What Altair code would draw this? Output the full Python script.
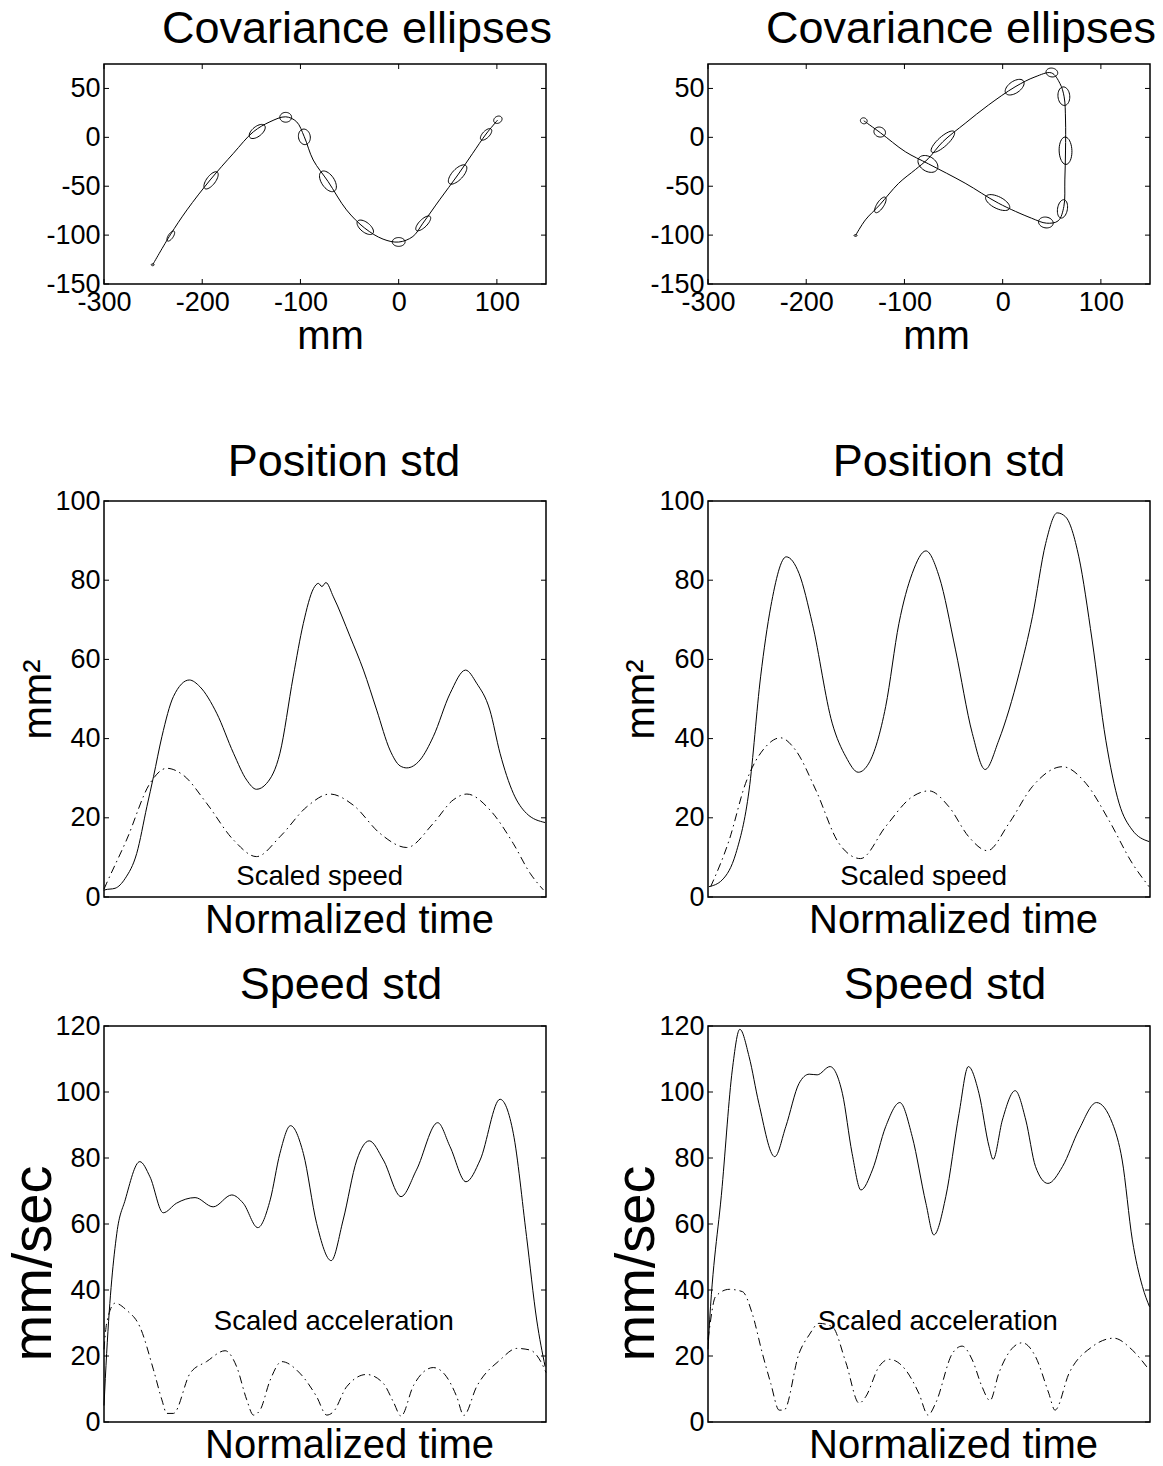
import altair as alt
import pandas as pd

FONT = "Liberation Sans"
W = 442
H_TOP = 220
H_MID = 396
H_BOT = 396

# ---------------- data ----------------
# Top-left trajectory (mm)
traj_l_x = [-250.4, -232.5, -215.5, -191.9, -168.2, -147.9, -131.0, -115.0, -103.9, -96.1, -87.0, -71.8,
            -53.1, -34.5, -15.9, 0.0, 14.5, 24.7, 41.6, 60.2, 75.4, 89.0, 100.8]
traj_l_y = [-130.3, -99.7, -74.2, -43.6, -16.3, 5.7, 15.9, 21.0, 15.9, 0.6, -23.2, -45.3,
            -74.2, -92.9, -104.1, -107.1, -101.4, -87.8, -64.0, -38.5, -16.3, 3.4, 17.7]
# Top-left covariance ellipses: centre, semi-axes, orientation (deg)
ell_l_cx = [-250.4, -232.0, -191.0, -144.0, -115.0, -96.0, -72.0, -34.0, 0.0, 25.0, 60.0, 89.0, 101.0]
ell_l_cy = [-130.3, -101.0, -44.0, 6.0, 20.5, 0.5, -45.0, -92.0, -107.0, -88.0, -38.0, 3.0, 18.0]
ell_l_a = [1.5, 6.0, 10.5, 9.7, 6.0, 8.0, 12.0, 10.0, 6.5, 10.0, 12.5, 7.5, 4.5]
ell_l_b = [1.0, 2.5, 4.5, 5.0, 5.0, 6.0, 6.5, 5.0, 4.5, 4.0, 5.5, 3.5, 3.5]
ell_l_ang = [0, 56, 53, 39, 0, 100, -56, -39, 0, 45, 47, 46, 30]

# Top-right trajectory (mm)
traj_r_x = [-149.8, -139.7, -125.2, -105.9, -88.9, -76.0, -60.9, -38.2, -14.5, 12.6, 32.9, 49.7, 58.3,
            62.6, 64.0, 64.0, 63.3, 62.3, 56.5, 44.7, 29.4, -4.4, -38.2, -75.4, -99.1, -124.5, -141.4]
traj_r_y = [-100.4, -84.4, -69.1, -47.0, -33.0, -22.0, -4.5, 14.3, 33.0, 51.6, 61.8, 65.9, 55.1,
            41.4, 17.7, -13.0, -43.6, -70.8, -85.4, -87.8, -82.7, -67.3, -46.9, -27.2, -14.7, 4.7, 16.9]
ell_r_cx = [-149.8, -124.5, -76.1, -60.9, 12.2, 50.1, 62.3, 64.0, 60.9, 44.0, -5.1, -125.2, -141.4]
ell_r_cy = [-100.4, -69.1, -27.2, -4.5, 51.3, 66.3, 42.1, -13.7, -73.2, -87.1, -66.7, 5.4, 16.9]
ell_r_a = [1.5, 9.3, 11.0, 15.5, 11.0, 6.0, 9.5, 14.0, 9.5, 7.5, 13.5, 6.0, 3.5]
ell_r_b = [1.0, 3.5, 7.5, 5.0, 6.0, 4.5, 6.0, 6.5, 5.0, 5.5, 6.0, 5.0, 3.0]
ell_r_ang = [0, 57, -32, 42, 35, -10, 95, 92, 80, -10, -27, -20, -20]

# Position std, left
pos_l_t = [0.0, 0.002, 0.025, 0.048, 0.074, 0.097, 0.112, 0.131, 0.157, 0.193, 0.217, 0.255, 0.293, 0.323,
           0.345, 0.368, 0.398, 0.428, 0.451, 0.474, 0.485, 0.493, 0.502, 0.519, 0.557, 0.587, 0.617,
           0.647, 0.670, 0.685, 0.715, 0.745, 0.783, 0.818, 0.843, 0.873, 0.896, 0.926, 0.956, 0.998]
pos_l_v = [1.6, 1.8, 2.2, 4.7, 11.0, 22.8, 30.4, 40.5, 50.6, 54.8, 53.1, 46.4, 36.3, 29.5,
           27.2, 28.7, 36.3, 55.6, 69.1, 77.9, 79.2, 78.4, 79.4, 75.8, 65.7, 57.3, 47.2,
           37.1, 33.1, 32.6, 34.6, 40.5, 51.4, 57.3, 54.0, 47.2, 36.3, 26.2, 21.1, 18.8]
spd_l_t = [0.0, 0.006, 0.051, 0.104, 0.142, 0.179, 0.232, 0.293, 0.345, 0.398, 0.459, 0.511, 0.564,
           0.624, 0.685, 0.745, 0.790, 0.821, 0.873, 0.926, 0.964, 0.994]
spd_l_v = [2.0, 3.5, 14.4, 28.7, 32.5, 30.8, 23.7, 14.4, 10.2, 15.2, 22.8, 26.0, 23.2,
           16.1, 12.5, 18.6, 24.5, 26.0, 22.0, 13.5, 6.0, 1.8]

# Position std, right
pos_r_t = [0.002, 0.032, 0.063, 0.093, 0.119, 0.142, 0.177, 0.206, 0.236, 0.281, 0.312, 0.340, 0.364,
           0.402, 0.432, 0.462, 0.493, 0.523, 0.560, 0.598, 0.627, 0.658, 0.704, 0.734, 0.764, 0.790,
           0.809, 0.839, 0.869, 0.900, 0.930, 0.960, 0.998]
pos_r_v = [2.6, 4.3, 11.0, 27.0, 55.6, 73.3, 85.9, 81.7, 69.1, 43.9, 35.4, 31.5, 33.8,
           48.1, 69.1, 81.7, 87.4, 80.9, 62.4, 41.3, 32.2, 39.6, 56.5, 70.8, 89.3, 97.0,
           96.0, 85.9, 64.9, 39.6, 23.7, 16.9, 14.0]
spd_r_t = [0.006, 0.048, 0.085, 0.131, 0.164, 0.198, 0.244, 0.296, 0.345, 0.402, 0.462, 0.500, 0.545,
           0.590, 0.632, 0.681, 0.734, 0.802, 0.855, 0.907, 0.960, 0.998]
spd_r_v = [2.6, 14.4, 28.7, 38.0, 40.2, 37.1, 27.0, 13.6, 9.7, 17.8, 25.3, 26.8, 22.8,
           15.2, 11.7, 18.6, 27.9, 32.9, 28.7, 19.4, 8.5, 2.6]

# Speed std, left
vel_l_t = [0.0, 0.006, 0.029, 0.048, 0.081, 0.104, 0.134, 0.164, 0.206, 0.247, 0.289, 0.315, 0.348,
           0.376, 0.398, 0.422, 0.451, 0.481, 0.514, 0.541, 0.572, 0.600, 0.632, 0.672, 0.707, 0.755,
           0.783, 0.819, 0.851, 0.896, 0.926, 0.956, 0.979, 0.998]
vel_l_v = [5.0, 20.8, 57.2, 67.3, 78.9, 74.3, 63.4, 66.3, 68.0, 65.2, 68.8, 66.3, 58.9,
           67.3, 81.4, 89.8, 81.4, 60.2, 48.9, 61.2, 79.4, 85.2, 79.4, 68.3, 76.4, 90.7,
           83.4, 72.8, 79.4, 97.8, 87.5, 56.2, 30.9, 16.8]
acc_l_t = [0.0, 0.006, 0.025, 0.051, 0.081, 0.112, 0.131, 0.142, 0.157, 0.195, 0.232, 0.274, 0.300,
           0.323, 0.338, 0.353, 0.376, 0.402, 0.443, 0.481, 0.504, 0.519, 0.549, 0.594, 0.632, 0.655,
           0.672, 0.700, 0.745, 0.775, 0.798, 0.814, 0.843, 0.896, 0.934, 0.964, 0.994, 1.0]
acc_l_v = [22.0, 29.9, 36.0, 33.9, 28.9, 15.8, 6.7, 2.6, 2.6, 14.8, 18.3, 21.6, 16.8,
           6.7, 2.1, 3.6, 12.7, 18.3, 14.8, 7.7, 2.1, 3.1, 10.7, 14.4, 11.7, 6.0,
           1.8, 11.0, 16.5, 13.7, 7.7, 2.0, 10.7, 18.8, 22.3, 21.8, 16.8, 15.0]

# Speed std, right
vel_r_t = [0.0, 0.002, 0.032, 0.055, 0.072, 0.093, 0.115, 0.151, 0.176, 0.206, 0.229, 0.247, 0.276,
           0.304, 0.326, 0.346, 0.372, 0.402, 0.434, 0.462, 0.493, 0.511, 0.538, 0.568, 0.589, 0.613,
           0.636, 0.645, 0.666, 0.695, 0.719, 0.741, 0.769, 0.802, 0.839, 0.879, 0.915, 0.937, 0.960,
           0.983, 0.999]
vel_r_v = [22.0, 26.9, 71.3, 106.7, 119.0, 110.7, 96.6, 80.4, 89.5, 102.6, 105.4, 105.2, 107.7,
           99.6, 81.4, 70.3, 76.4, 89.5, 96.8, 86.5, 66.3, 56.7, 68.3, 93.5, 107.7, 99.6,
           83.4, 79.6, 91.5, 100.4, 91.5, 77.4, 72.3, 77.4, 88.5, 96.8, 90.5, 79.4, 55.2,
           41.0, 34.9]
acc_r_t = [0.0, 0.002, 0.017, 0.048, 0.078, 0.100, 0.123, 0.142, 0.161, 0.172, 0.206, 0.229, 0.251,
           0.281, 0.312, 0.342, 0.357, 0.387, 0.410, 0.447, 0.477, 0.498, 0.515, 0.553, 0.575, 0.598,
           0.620, 0.638, 0.658, 0.688, 0.711, 0.741, 0.771, 0.785, 0.817, 0.869, 0.918, 0.960, 0.998]
acc_r_v = [25.0, 27.0, 38.0, 40.2, 39.5, 32.9, 20.8, 11.7, 3.6, 3.6, 20.8, 26.4, 29.9,
           28.9, 18.0, 5.7, 7.7, 16.8, 19.0, 15.8, 8.7, 2.1, 5.7, 20.8, 23.0, 18.8,
           10.7, 6.5, 14.8, 22.3, 24.0, 19.8, 8.7, 3.6, 14.8, 22.8, 25.4, 21.8, 15.8]

traj_ticks_x = [-300, -200, -100, 0, 100]
traj_ticks_y = [-150, -100, -50, 0, 50]
pos_ticks = [0, 20, 40, 60, 80, 100]
vel_ticks = [0, 20, 40, 60, 80, 100, 120]

# ---------------- helpers ----------------
AX_LABEL = 27
AX_TITLE = 40
TITLE = 45
NOTE = 27.5
DASHDOT = [8, 4, 1.5, 4]
LABEL_EXPR = "replace(datum.label, '\u2212', '-')"


def axis_x(title, values=None, labels=True, tx=245, ty=35):
    kw = dict(title=title, grid=False, ticks=False, domain=False, labels=labels,
              labelFont=FONT, labelFontSize=AX_LABEL, labelColor="black", labelPadding=5,
              labelFlush=False, labelOverlap=False, labelExpr=LABEL_EXPR,
              titleFont=FONT, titleFontSize=AX_TITLE, titleFontWeight="normal", titleColor="black",
              titleX=tx, titleY=ty, titleBaseline="alphabetic", titleAlign="center")
    if values is not None:
        kw["values"] = values
    return alt.Axis(**kw)


def axis_y(title, values, tx=-54, ty=198, tsize=AX_TITLE):
    kw = dict(values=values, grid=False, ticks=False, domain=False,
              labelFont=FONT, labelFontSize=AX_LABEL, labelColor="black", labelPadding=4,
              labelFlush=False, labelOverlap=False, labelExpr=LABEL_EXPR,
              titleFont=FONT, titleFontSize=tsize, titleFontWeight="normal", titleColor="black",
              titleX=tx, titleY=ty, titleBaseline="alphabetic", titleAlign="center", titleAngle=-90)
    kw["title"] = title if title else ""
    return alt.Axis(**kw)


def inner_y_ticks(vals, yscale, yaxis, w):
    df = pd.DataFrame({"y": vals})
    left = alt.Chart(df).mark_rule(color="black", strokeWidth=1).encode(
        y=alt.Y("y:Q", scale=yscale, axis=yaxis), x=alt.value(0), x2=alt.value(5))
    right = alt.Chart(df).mark_rule(color="black", strokeWidth=1).encode(
        y=alt.Y("y:Q", scale=yscale, axis=yaxis), x=alt.value(w - 5), x2=alt.value(w))
    return [left, right]


def inner_x_ticks(vals, xscale, xaxis, h):
    df = pd.DataFrame({"x": vals})
    bot = alt.Chart(df).mark_rule(color="black", strokeWidth=1).encode(
        x=alt.X("x:Q", scale=xscale, axis=xaxis), y=alt.value(h - 5), y2=alt.value(h))
    top = alt.Chart(df).mark_rule(color="black", strokeWidth=1).encode(
        x=alt.X("x:Q", scale=xscale, axis=xaxis), y=alt.value(0), y2=alt.value(5))
    return [bot, top]


def panel_title(text, dx, offset):
    return alt.TitleParams(text, font=FONT, fontSize=TITLE, fontWeight="normal", color="black",
                           dx=dx, offset=offset, baseline="alphabetic", frame="group")


def traj_panel(tx, ty, cx, cy, a, b, ang, mm_tx, ytx):
    xs = alt.Scale(domain=[-300, 150], nice=False, zero=False)
    ys = alt.Scale(domain=[-150, 75], nice=False, zero=False)
    xa = axis_x("mm", traj_ticks_x, True, mm_tx, 64)
    ya = axis_y(None, traj_ticks_y, ytx, 110)
    path = alt.Chart(pd.DataFrame({"x": tx, "y": ty, "i": list(range(len(tx)))})).mark_line(
        color="black", strokeWidth=1, interpolate="catmull-rom").encode(
        x=alt.X("x:Q", scale=xs, axis=xa),
        y=alt.Y("y:Q", scale=ys, axis=ya),
        order="i:Q")
    edf = pd.DataFrame({"id": list(range(len(cx))), "cx": cx, "cy": cy, "a": a, "b": b, "ang": ang})
    ells = alt.Chart(edf).transform_calculate(k="sequence(0, 41)").transform_flatten(["k"]).transform_calculate(
        th="datum.k * PI / 20",
        r="datum.ang * PI / 180",
    ).transform_calculate(
        x="datum.cx + datum.a*cos(datum.th)*cos(datum.r) - datum.b*sin(datum.th)*sin(datum.r)",
        y="datum.cy + datum.a*cos(datum.th)*sin(datum.r) + datum.b*sin(datum.th)*cos(datum.r)",
    ).mark_line(color="black", strokeWidth=1).encode(
        x=alt.X("x:Q", scale=xs, axis=xa),
        y=alt.Y("y:Q", scale=ys, axis=ya),
        detail="id:N", order="k:Q")
    layers = [path, ells] + inner_y_ticks(traj_ticks_y, ys, ya, W) + inner_x_ticks(traj_ticks_x, xs, xa, H_TOP)
    return alt.layer(*layers).properties(width=W, height=H_TOP,
                                         title=panel_title("Covariance ellipses", 32, -24))


def std_panel(t1, v1, t2, v2, ymax, ticks, title, ytitle, note, note_x, note_y, ytx, yty, ysize,
              title_dx, title_off, h, nt_x):
    xs = alt.Scale(domain=[0, 1], nice=False, zero=False)
    ys = alt.Scale(domain=[0, ymax], nice=False, zero=False)
    xa = axis_x("Normalized time", None, False, nt_x, 35)
    ya = axis_y(ytitle, ticks, ytx, yty, ysize)
    solid = alt.Chart(pd.DataFrame({"x": t1, "y": v1})).mark_line(
        color="black", strokeWidth=1, interpolate="monotone").encode(
        x=alt.X("x:Q", scale=xs, axis=xa),
        y=alt.Y("y:Q", scale=ys, axis=ya))
    dash = alt.Chart(pd.DataFrame({"x": t2, "y": v2})).mark_line(
        color="black", strokeWidth=1, strokeDash=DASHDOT, interpolate="monotone").encode(
        x=alt.X("x:Q", scale=xs, axis=xa),
        y=alt.Y("y:Q", scale=ys, axis=ya))
    txt = alt.Chart(pd.DataFrame({"x": [note_x], "y": [note_y], "s": [note]})).mark_text(
        font=FONT, fontSize=NOTE, color="black", align="center", baseline="middle").encode(
        x=alt.X("x:Q", scale=xs, axis=xa), y=alt.Y("y:Q", scale=ys, axis=ya), text="s:N")
    layers = [solid, dash, txt] + inner_y_ticks(ticks, ys, ya, W)
    return alt.layer(*layers).properties(width=W, height=h, title=panel_title(title, title_dx, title_off))


def spacer(h):
    return alt.Chart(pd.DataFrame({"x": [0.0]})).mark_point(opacity=0).encode(
        x=alt.X("x:Q", axis=None), y=alt.Y("x:Q", axis=None)
    ).properties(width=W, height=h, view=alt.ViewBackground(strokeOpacity=0))


tl = traj_panel(traj_l_x, traj_l_y, ell_l_cx, ell_l_cy, ell_l_a, ell_l_b, ell_l_ang, 226, -54)
tr = traj_panel(traj_r_x, traj_r_y, ell_r_cx, ell_r_cy, ell_r_a, ell_r_b, ell_r_ang, 228, -55)

ml = std_panel(pos_l_t, pos_l_v, spd_l_t, spd_l_v, 100, pos_ticks, "Position std", "mm²",
               "Scaled speed", 0.488, 5, -54, 198, AX_TITLE, 19, -34, H_MID, 245)
mr = std_panel(pos_r_t, pos_r_v, spd_r_t, spd_r_v, 100, pos_ticks, "Position std", "mm²",
               "Scaled speed", 0.488, 5, -55, 198, AX_TITLE, 20, -34, H_MID, 245)
bl = std_panel(vel_l_t, vel_l_v, acc_l_t, acc_l_v, 120, vel_ticks, "Speed std", "mm/sec",
               "Scaled acceleration", 0.52, 30.3, -54, 237, 56, 16, -32, H_BOT, 245)
br = std_panel(vel_r_t, vel_r_v, acc_r_t, acc_r_v, 120, vel_ticks, "Speed std", "mm/sec",
               "Scaled acceleration", 0.52, 30.3, -55, 237, 56, 16, -32, H_BOT, 245)

cells = [tl, tr, spacer(217), spacer(217), ml, mr, spacer(129), spacer(129), bl, br]

chart = alt.concat(*cells, columns=2, spacing={"row": 0, "column": 162}, bounds="flush", align="each"
                   ).configure_view(stroke="black", strokeWidth=1.5
                   ).properties(background="white", padding={"left": 4, "top": 5, "right": 0, "bottom": 0})

chart.save("out.html", embed_options={"renderer": "svg", "actions": False})
